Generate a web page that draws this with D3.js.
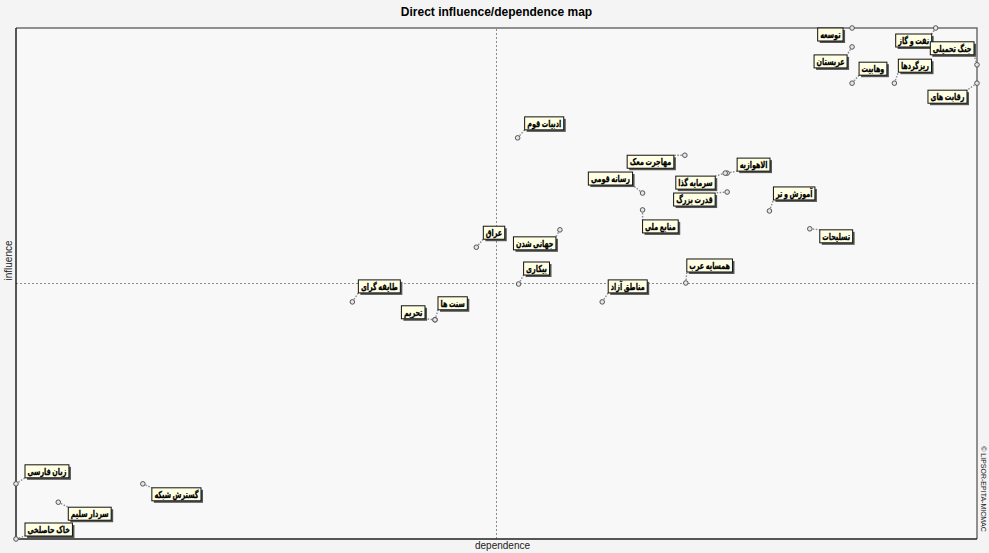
<!DOCTYPE html>
<html>
<head>
<meta charset="utf-8">
<script src="https://cdn.jsdelivr.net/npm/d3@7"></script>
<style>
  html, body { margin: 0; padding: 0; background: #f4f4f4; }
  svg { display: block; }
</style>
</head>
<body>
<div id="map"></div>
<script>
/* Direct influence/dependence map (MICMAC) */

// factor short labels, as printed on the map
const factors = [
    "توسعه", "نفت و گاز", "جنگ تحمیلی", "رقابت های", "عربستان",
    "وهابیت", "ریزگردها", "مهاجرت معک", "الاهوازیه", "سرمایه گذا",
    "قدرت بزرگ", "رسانه قومی", "منابع ملی", "آموزش و تر", "تسلیحات",
    "ادبیات قوم", "عراق", "جهانی شدن", "بیکاری", "طایفه گرای",
    "سنت ها", "تحریم", "مناطق آزاد", "همسایه عرب", "زبان فارسی",
    "گسترش شبکه", "سردار سلیم", "خاک حاصلخی"
];

// dependence (x) and influence (y), % of range
const dependence = [
    87.0, 95.7, 100, 100, 87.0,
    87.0, 91.4, 69.6, 74.0, 73.8,
    74.0, 65.2, 65.2, 78.4, 82.6,
    52.2, 47.9, 56.6, 52.3, 35.0,
    43.6, 43.6, 61.0, 69.7, 0,
    13.2, 4.4, 0
];
const influence = [
    100, 100, 92.8, 89.2, 96.3,
    89.2, 89.2, 75.1, 71.6, 71.6,
    67.9, 67.7, 64.4, 64.2, 60.7,
    78.5, 57.1, 60.5, 49.9, 46.4,
    42.9, 42.9, 46.4, 50.1, 10.8,
    10.8, 7.2, 0
];

// label placement: [gap from point (− = left side), box top relative to point]
const labelOffset = [
    [-9, 0], [-4, 6], [-3, -23], [-10, 7], [-5, 8],
    [7, -21], [4, -24], [-11, 0], [10, -15], [-10, 3],
    [-12, 1], [-10, -21], [0, 10], [4, -24], [10, 1],
    [7, -21], [7, -21], [-4, 7], [5, -22], [6, -22],
    [3, -23], [-10, -14], [6, -22], [1, -24], [9, -19],
    [9, 4], [10, 5], [9, -16]
];

const width = 989,
      height = 553,
      margin = ({ top: 28, right: 12, bottom: 14, left: 16 });

const data = factors.map((f, i) => ({
    name: f,
    dep: dependence[i],
    inf: influence[i],
    off: labelOffset[i]
}));

let svg = d3.select("#map")
    .append("svg")
    .attr("width", width)
    .attr("height", height)
    .attr("viewBox", [0, 0, width, height]);

svg.append("rect")
    .attr("width", width)
    .attr("height", height)
    .attr("fill", "#f4f4f4");

let x = d3.scaleLinear()
    .domain([0, 100])
    .range([margin.left, width - margin.right]);

let y = d3.scaleLinear()
    .domain([0, 100])
    .range([height - margin.bottom, margin.top]);

// plot area
svg.append("rect")
    .attr("x", x(0))
    .attr("y", y(100))
    .attr("width", x(100) - x(0))
    .attr("height", y(0) - y(100))
    .attr("fill", "#f8f8f8");

// mid lines (dashed cross)
svg.append("line")
    .attr("x1", x(50)).attr("x2", x(50))
    .attr("y1", y(0)).attr("y2", y(100))
    .attr("stroke", "#8c8c8c")
    .attr("stroke-dasharray", "2,2");

svg.append("line")
    .attr("x1", x(0)).attr("x2", x(100))
    .attr("y1", y(50)).attr("y2", y(50))
    .attr("stroke", "#8c8c8c")
    .attr("stroke-dasharray", "2,2");

// frame: light top / right, dark left / bottom
svg.append("path")
    .attr("d", `M${x(0)},${y(100)}H${x(100)}V${y(0)}`)
    .attr("fill", "none")
    .attr("stroke", "#6e6e6e")
    .attr("stroke-width", 1.5);

svg.append("path")
    .attr("d", `M${x(0)},${y(100)}V${y(0)}H${x(100)}`)
    .attr("fill", "none")
    .attr("stroke", "#222")
    .attr("stroke-width", 1.5);

// title and axis names
svg.append("text")
    .attr("x", x(50))
    .attr("y", 16)
    .attr("text-anchor", "middle")
    .style("font-family", "Liberation Sans, Arial, sans-serif")
    .style("font-weight", "bold")
    .style("font-size", "12px")
    .text("Direct influence/dependence map");

svg.append("text")
    .attr("x", x(50) + 6)
    .attr("y", height - 4)
    .attr("text-anchor", "middle")
    .style("font-family", "Liberation Sans, Arial, sans-serif")
    .style("font-size", "10px")
    .style("fill", "#222")
    .text("dependence");

svg.append("text")
    .attr("transform", `translate(12,${y(54.5)}) rotate(-90)`)
    .attr("text-anchor", "middle")
    .style("font-family", "Liberation Sans, Arial, sans-serif")
    .style("font-size", "10px")
    .style("fill", "#222")
    .text("influence");

svg.append("text")
    .attr("transform", `translate(${x(100) + 4},${y(0) - 50}) rotate(90)`)
    .attr("text-anchor", "middle")
    .style("font-family", "Liberation Sans, Arial, sans-serif")
    .style("font-size", "7px")
    .style("fill", "#222")
    .text("© LIPSOR-EPITA-MICMAC");

// factor groups
let factor = svg.selectAll(".factor")
    .data(data)
    .join("g")
    .attr("class", "factor");

let connector = factor.append("line")
    .attr("stroke", "#8a8a8a")
    .attr("stroke-width", 1.4)
    .attr("stroke-dasharray", "1.5,1.5");

let shadow = factor.append("rect")
    .attr("fill", "#555");

let box = factor.append("rect")
    .attr("fill", "#ffffe3")
    .attr("stroke", "#111")
    .attr("stroke-width", 1);

const squeeze = 0.68; // labels are narrow in the original

let label = factor.append("text")
    .attr("direction", "rtl")
    .attr("text-anchor", "middle")
    .style("font-family", "DejaVu Sans, sans-serif")
    .style("font-weight", "bold")
    .style("font-size", "9.5px")
    .style("word-spacing", "-1px")
    .style("fill", "#000")
    .style("stroke", "#000")
    .style("stroke-width", 0.25)
    .text(d => d.name);

factor.append("circle")
    .attr("cx", d => x(d.dep))
    .attr("cy", d => y(d.inf))
    .attr("r", 2.3)
    .attr("fill", "#e6e6e6")
    .attr("stroke", "#555")
    .attr("stroke-width", 1);

// place each label box next to its point
label.each(function(d) {
    const w = this.getComputedTextLength() * squeeze + 5,
          h = 13,
          px = x(d.dep),
          py = y(d.inf),
          [gap, top] = d.off;
    const east = gap >= 0;
    d.bx = east ? px + gap : px + gap - w;
    d.by = py + top;
    d.bw = w;
    d.bh = h;
    // corner of the box closest to the point
    d.cx = east ? d.bx : d.bx + w;
    d.cy = top < 0 ? d.by + h : d.by;
});

label
    .attr("transform", d =>
        `translate(${d.bx + d.bw / 2},${d.by + d.bh / 2 + 3.5}) scale(${squeeze},1)`);

box
    .attr("x", d => d.bx)
    .attr("y", d => d.by)
    .attr("width", d => d.bw)
    .attr("height", d => d.bh);

shadow
    .attr("x", d => d.bx + 2)
    .attr("y", d => d.by + 2)
    .attr("width", d => d.bw)
    .attr("height", d => d.bh);

connector
    .attr("x1", d => x(d.dep))
    .attr("y1", d => y(d.inf))
    .attr("x2", d => d.cx)
    .attr("y2", d => d.cy);
</script>
</body>
</html>
